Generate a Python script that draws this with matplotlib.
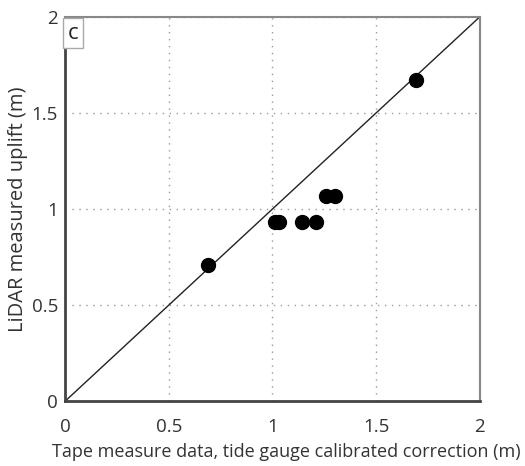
import matplotlib.pyplot as plt
import numpy as np

plt.rcParams['font.family'] = ['Open Sans', 'DejaVu Sans']

# Data
tape = [0.69, 1.01, 1.03, 1.14, 1.21, 1.26, 1.30, 1.69]
lidar = [0.71, 0.93, 0.93, 0.93, 0.93, 1.07, 1.07, 1.67]
ticks = [0, 0.5, 1, 1.5, 2]
tick_labels = ['0', '0.5', '1', '1.5', '2']

fig = plt.figure(figsize=(5.25, 4.66), dpi=100)
ax = fig.add_axes([0.124, 0.139, 0.79, 0.825])

ax.plot([0, 2], [0, 2], color='#222222', lw=1.0, zorder=2)
ax.plot(tape, lidar, 'o', color='black', markersize=10, zorder=3)

ax.set_xlim(0, 2)
ax.set_ylim(0, 2)
ax.set_xticks(ticks)
ax.set_yticks(ticks)
ax.set_xticklabels(tick_labels)
ax.set_yticklabels(tick_labels)
ax.tick_params(length=0, labelsize=13.5, colors='#333333')
ax.tick_params(axis='x', pad=12)
ax.tick_params(axis='y', pad=5)
ax.grid(True, linestyle=(0, (1, 4)), color='#999999', lw=1.0)

for side in ['left', 'bottom']:
    ax.spines[side].set_color('#444444')
    ax.spines[side].set_linewidth(2)
for side in ['top', 'right']:
    ax.spines[side].set_color('#888888')
    ax.spines[side].set_linewidth(1.5)

ax.set_xlabel('Tape measure data, tide gauge calibrated correction (m)', fontsize=13, color='#333333')
ax.xaxis.set_label_coords(0.533, -0.108)
ax.set_ylabel('LiDAR measured uplift (m)', fontsize=14.5, color='#333333', labelpad=3)

ax.text(0.006, 0.985, 'c', transform=ax.transAxes, fontsize=16, va='top', ha='left',
        color='#222222',
        bbox=dict(boxstyle='square,pad=0.22', fc='white', ec='#aaaaaa', lw=1))

fig.savefig('out.png', dpi=100)
